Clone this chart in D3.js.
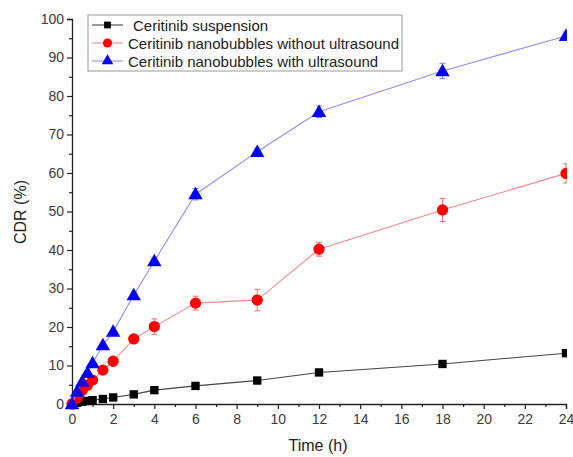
<!DOCTYPE html>
<html><head><meta charset="utf-8">
<script src="https://cdn.jsdelivr.net/npm/d3@7"></script>
<style>body{margin:0;background:#fff}svg{display:block}</style>
</head><body>
<script>
const times = [0, 0.25, 0.5, 0.75, 1, 1.5, 2, 3, 4, 6, 9, 12, 18, 24];
const suspension = [0, 0.3, 0.6, 0.8, 1.0, 1.3, 1.7, 2.5, 3.6, 4.7, 6.1, 8.2, 10.4, 13.2];
const suspensionErr = [0, 0.1, 0.1, 0.1, 0.2, 0.2, 0.2, 0.3, 0.4, 0.4, 0.5, 0.6, 0.6, 0.8];
const nbNoUS = [0, 1.6, 3.6, 4.9, 6.2, 8.8, 11.1, 16.9, 20.1, 26.2, 27.0, 40.2, 50.4, 59.9];
const nbNoUSErr = [0, 0.3, 0.4, 0.5, 0.6, 0.7, 0.8, 1.0, 2.0, 1.8, 2.8, 1.8, 3.0, 2.5];
const nbUS = [0, 3.2, 5.8, 8.1, 10.6, 15.3, 18.8, 28.3, 37.1, 54.5, 65.5, 75.9, 86.5, 95.6];
const nbUSErr = [0, 0.3, 0.4, 0.5, 0.5, 0.6, 0.7, 0.8, 1.0, 1.5, 1.0, 1.5, 2.0, 1.0];
const seriesNames = ["Ceritinib suspension", "Ceritinib nanobubbles without ultrasound", "Ceritinib nanobubbles with ultrasound"];
const xTicks = [0, 2, 4, 6, 8, 10, 12, 14, 16, 18, 20, 22, 24];
const yTicks = [0, 10, 20, 30, 40, 50, 60, 70, 80, 90, 100];
const xTitle = "Time (h)";
const yTitle = "CDR (%)";

const W = 573, H = 457;
const svg = d3.select("body").append("svg").attr("width", W).attr("height", H);
const x = d3.scaleLinear().domain([0, 24]).range([72, 566]);
const y = d3.scaleLinear().domain([0, 100]).range([404, 19]);

svg.append("defs").append("clipPath").attr("id", "clip")
  .append("rect").attr("x", 60).attr("y", 0).attr("width", 507).attr("height", 420);

const font = "'Liberation Sans', Arial, sans-serif";

// axes
svg.append("g").attr("transform", `translate(0,${y(0)})`)
  .call(d3.axisBottom(x).tickValues(xTicks).tickSize(5).tickPadding(5));
svg.append("g").attr("transform", `translate(0,${y(0)})`)
  .call(d3.axisBottom(x).tickValues(d3.range(1, 24, 2)).tickSize(3).tickFormat(""))
  .select(".domain").remove();
svg.append("g").attr("transform", `translate(${x(0)},0)`)
  .call(d3.axisLeft(y).tickValues(yTicks).tickSize(5).tickPadding(3));
svg.append("g").attr("transform", `translate(${x(0)},0)`)
  .call(d3.axisLeft(y).tickValues(d3.range(5, 100, 10)).tickSize(3).tickFormat(""))
  .select(".domain").remove();
svg.selectAll(".domain").attr("stroke", "#222").attr("stroke-width", 1.3);
svg.selectAll(".tick line").attr("stroke", "#222").attr("stroke-width", 1.2);
svg.selectAll(".tick text").attr("font-family", font).attr("font-size", 14).attr("fill", "#3a3a3a");

svg.append("text").attr("x", 318).attr("y", 451).attr("text-anchor", "middle")
  .attr("font-family", font).attr("font-size", 16).attr("fill", "#222").text(xTitle);
svg.append("text").attr("transform", "translate(26,212) rotate(-90)").attr("text-anchor", "middle")
  .attr("font-family", font).attr("font-size", 16).attr("fill", "#222").text(yTitle);

const series = [
  {name: seriesNames[0], vals: suspension, err: suspensionErr, line: "#444", marker: "#000", shape: d3.symbolSquare, size: 70, errc: "#555"},
  {name: seriesNames[1], vals: nbNoUS, err: nbNoUSErr, line: "#f28a8a", marker: "#ff0000", shape: d3.symbolCircle, size: 100, errc: "#f07070"},
  {name: seriesNames[2], vals: nbUS, err: nbUSErr, line: "#8f8fef", marker: "#0000ee", shape: d3.symbolTriangle, size: 90, errc: "#7a7ae8"}
];

const plot = svg.append("g").attr("clip-path", "url(#clip)");
const line = d3.line().x(d => x(d[0])).y(d => y(d[1]));
series.forEach(s => {
  const pts = times.map((t, i) => [t, s.vals[i], s.err[i]]);
  plot.append("path").datum(pts).attr("d", line).attr("fill", "none")
    .attr("stroke", s.line).attr("stroke-width", 1.1);
  const eg = plot.append("g");
  pts.filter(p => p[2] >= 0.8).forEach(p => {
    const cx = x(p[0]), y1 = y(p[1] + p[2]), y2 = y(p[1] - p[2]);
    eg.append("line").attr("x1", cx).attr("x2", cx).attr("y1", y1).attr("y2", y2).attr("stroke", s.errc).attr("stroke-width", 1);
    [y1, y2].forEach(yy => eg.append("line").attr("x1", cx - 3).attr("x2", cx + 3).attr("y1", yy).attr("y2", yy).attr("stroke", s.errc).attr("stroke-width", 1));
  });
  plot.append("g").selectAll("path").data(pts).join("path")
    .attr("transform", d => `translate(${x(d[0])},${y(d[1]) + (s.shape === d3.symbolTriangle ? 1 : 0)})`)
    .attr("d", d3.symbol().type(s.shape).size(s.size)).attr("fill", s.marker);
});

// legend
const lg = svg.append("g");
lg.append("rect").attr("x", 88).attr("y", 15).attr("width", 314).attr("height", 56)
  .attr("fill", "#fff").attr("stroke", "#999").attr("stroke-width", 1);
series.forEach((s, i) => {
  const cy = 25 + i * 18;
  lg.append("line").attr("x1", 92).attr("x2", 123).attr("y1", cy).attr("y2", cy).attr("stroke", s.line).attr("stroke-width", 1.1);
  lg.append("path").attr("transform", `translate(107.5,${cy})`).attr("d", d3.symbol().type(s.shape).size(s.size * 0.65)).attr("fill", s.marker);
  lg.append("text").attr("x", i === 0 ? 133 : 128).attr("y", cy + 5.5).attr("font-family", font).attr("font-size", 15)
    .attr("fill", "#222").text(s.name);
});
</script>
</body></html>
